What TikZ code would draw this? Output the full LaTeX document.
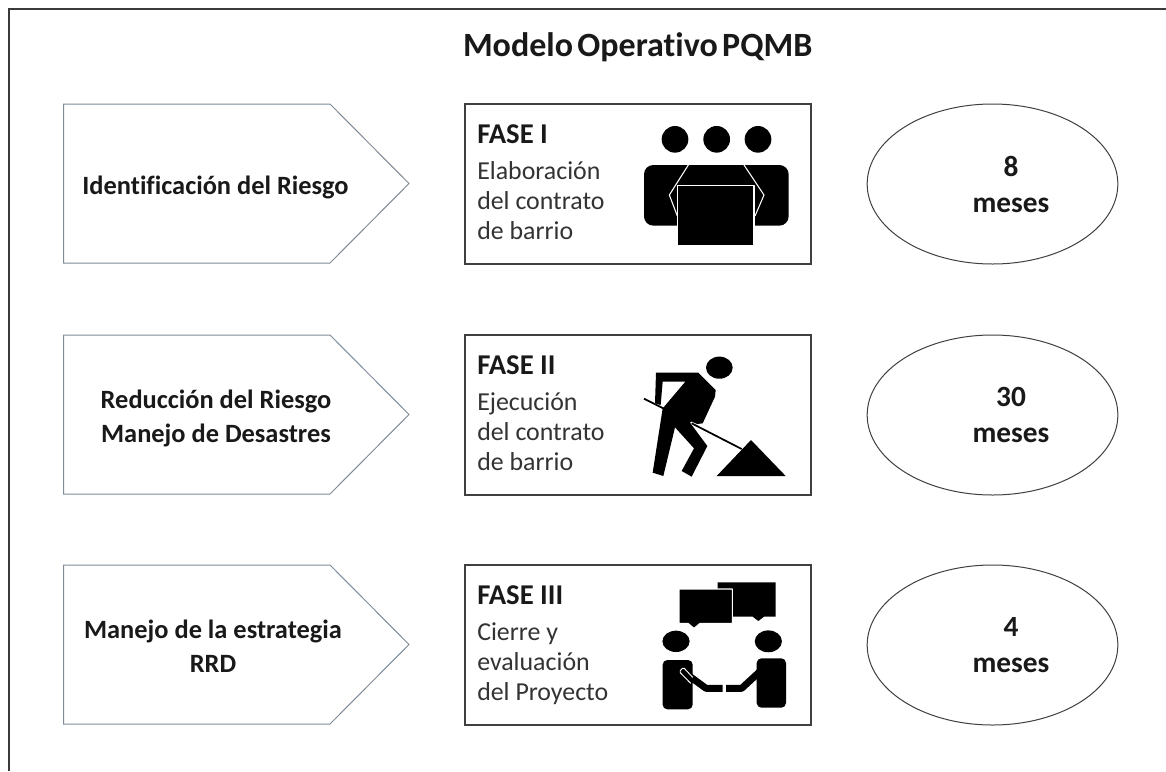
\documentclass[tikz,border=0pt]{standalone}
\usepackage{fontspec}
\setmainfont{Carlito}[Ligatures=NoCommon]
\definecolor{frameC}{HTML}{3A3A3A}
\definecolor{arrowC}{HTML}{7F8C98}
\definecolor{boxC}{HTML}{404040}
\tikzset{
  arrowshape/.style={draw=arrowC,line width=.75pt,fill=white},
  phasebox/.style={draw=boxC,line width=.9pt,fill=white},
  timeoval/.style={draw=boxC,line width=.75pt,fill=white},
  frameline/.style={draw=frameC,line width=1.3pt},
  risklabel/.style={font=\fontsize{19.8}{25.5}\selectfont\bfseries,align=center,text=black!90},
  phasehead/.style={font=\fontsize{21.5}{26}\selectfont\bfseries,anchor=base west,text=black!90,inner sep=0pt},
  phasetext/.style={font=\fontsize{19.4}{22.7}\selectfont,anchor=north west,align=left,text=black!80,inner sep=0pt},
  monthlabel/.style={font=\fontsize{22}{27}\selectfont\bfseries,align=center,text=black!90},
  whiteedge/.style={draw=white,line width=.8pt,line join=round}
}
\begin{document}
\begin{tikzpicture}[x=.75pt,y=-.75pt]
\useasboundingbox (0,0) rectangle (1166,771);
\fill[white] (0,0) rectangle (1166,771);
\coordinate (ftl) at (9,9);
\coordinate (ftr) at (1166,9);
\coordinate (fbl) at (9,771);
\draw[frameline] (fbl) -- (ftl) -- (ftr);
\node[font=\fontsize{25.5}{30}\selectfont\bfseries,text=black!90,anchor=base] (title) at (637.7,56) {\spaceskip=.13em\relax Modelo Operativo PQMB};

% pentagons
\foreach \n/\t in {a/104,b/335,c/565}{
  \draw[arrowshape] (63.5,\t) -- (330,\t) -- (409,\t+79.5) -- (330,\t+159) -- (63.5,\t+159) -- cycle;
  \draw[phasebox] (465,\t) rectangle (811,\t+160);
  \draw[timeoval] (992.5,\t+80) ellipse [x radius=94pt,y radius=60pt];
}
\node[risklabel] (r1) at (215.5,187) {Identificación del Riesgo};
\node[risklabel] (r2) at (216,418.5) {Reducción del Riesgo\\Manejo de Desastres};
\node[risklabel] (r3) at (213,646) {Manejo de la estrategia\\RRD};

\node[phasehead] (f1) at (477,143) {FASE I};
\node[phasetext] (t1) at (477,161) {Elaboración\\del contrato\\de barrio};
\node[phasehead] (f2) at (477,374) {FASE II};
\node[phasetext] (t2) at (477,392) {Ejecución\\del contrato\\de barrio};
\node[phasehead] (f3) at (477,604) {FASE III};
\node[phasetext] (t3) at (477,622) {Cierre y\\evaluación\\del Proyecto};

\node[monthlabel] (m1) at (1011,184) {8\\meses};
\node[monthlabel] (m2) at (1011,415) {30\\meses};
\node[monthlabel] (m3) at (1011,645.5) {4\\meses};

% icon 1
\begin{scope}[shift={(620,110)},x=.25pt,y=-.25pt]
  \foreach \cx in {165,290,414} \fill (\cx,88) circle [radius=10pt];
  \fill[rounded corners=7pt] (72,165) -- (506,165) -- (506,347) -- (72,347) -- cycle;
  \draw[whiteedge] (205,165) -- (148,255) -- (172,318);
  \draw[whiteedge] (372,165) -- (432,255) -- (405,318);
  \draw[whiteedge,fill=black] (173,227) rectangle (402,406);
\end{scope}

% icon 2
\begin{scope}[shift={(620,340)},x=.25pt,y=-.25pt]
  \fill (298,83) ellipse [x radius=10pt,y radius=8.3pt];
  \fill[line join=round] (108,98) -- (235,98) -- (287,150) -- (285,170) -- (248,250) -- (232,252) -- (210,243) -- (248,205) -- (210,248) -- (262,318) -- (215,410) -- (185,393) -- (222,325) -- (165,262) -- (130,408) -- (98,398) -- (128,205) -- (135,197) -- (196,125) -- (128,125) -- (122,195) -- (105,190) -- cycle;
  \draw[line width=1.3pt] (72,176) -- (130,205);
  \draw[line width=1.3pt] (215,250) -- (365,327);
  \fill (290,408) -- (393,300) -- (497,408) -- cycle;
\end{scope}

% icon 3
\begin{scope}[shift={(620,570)},x=.25pt,y=-.25pt]
  \fill (293,37) -- (467,37) -- (467,140) -- (432,140) -- (415,153) -- (398,140) -- (293,140) -- cycle;
  \draw[whiteedge,fill=black] (177,57) -- (337,57) -- (337,160) -- (240,160) -- (222,175) -- (204,160) -- (177,160) -- cycle;
  \fill (168,214) ellipse [x radius=10.2pt,y radius=8pt];
  \fill (445,214) ellipse [x radius=10.2pt,y radius=8.2pt];
  \fill[rounded corners=3.5pt] (128,270) rectangle (218,418);
  \fill[rounded corners=3.5pt] (410,265) rectangle (498,413);
  \draw[line width=5.2pt,line join=round] (190,305) -- (258,355) -- (308,355);
  \draw[line width=5.2pt,line join=round] (318,355) -- (365,355) -- (430,295);
  \draw[draw=white,line width=.7pt,rounded corners=1pt] (218,322) -- (190,292) -- (178,305) -- (212,340);
\end{scope}
\end{tikzpicture}
\end{document}
